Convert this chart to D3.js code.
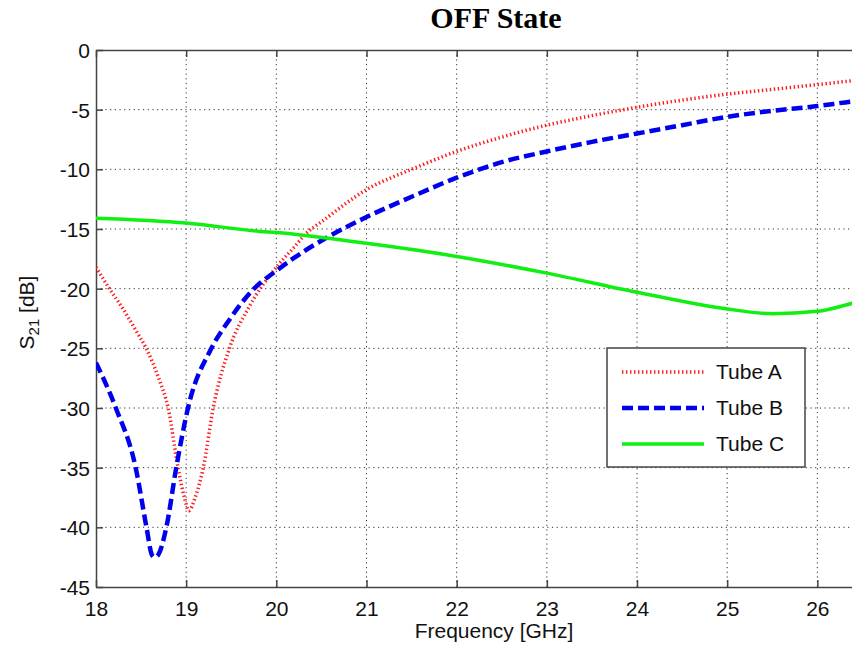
<!DOCTYPE html>
<html>
<head>
<meta charset="utf-8">
<script src="https://cdn.jsdelivr.net/npm/d3@7/dist/d3.min.js"></script>
<style>
  html, body { margin: 0; padding: 0; background: #fff; }
  svg { display: block; }
</style>
</head>
<body>
<svg id="chart" width="852" height="655"></svg>
<script>
// ---- data ----
const tubeAFreq = [18, 18.14, 18.3, 18.45, 18.55, 18.7, 18.8, 18.91, 18.98, 19.03, 19.1, 19.19, 19.3, 19.48, 19.7, 20.0, 20.2, 20.34, 20.5, 21, 21.5, 22, 22.5, 23, 23.5, 24, 24.5, 25, 25.5, 26, 26.5, 26.85];
const tubeAVals = [-18.2, -19.9, -21.7, -23.6, -24.9, -27.6, -30, -35, -37.5, -38.6, -37.5, -35, -30, -25, -21.5, -18.2, -16.5, -15.3, -14.4, -11.7, -10, -8.5, -7.3, -6.3, -5.5, -4.8, -4.2, -3.7, -3.3, -2.9, -2.5, -2.3];

const tubeBFreq = [18, 18.22, 18.44, 18.56, 18.62, 18.65, 18.69, 18.78, 18.89, 19.02, 19.28, 19.48, 19.74, 20.0, 20.2, 20.54, 21, 21.5, 22, 22.5, 23, 23.5, 24, 24.5, 25, 25.5, 26, 26.4, 26.85];
const tubeBVals = [-26.2, -30, -35, -40, -42.3, -42.5, -42.3, -40, -35, -30, -25, -22.6, -20.1, -18.5, -17.4, -15.8, -14, -12.3, -10.7, -9.4, -8.5, -7.7, -7.0, -6.3, -5.6, -5.1, -4.7, -4.3, -4.0];

const tubeCFreq = [18, 19, 19.82, 20, 21, 22, 23, 24, 25, 25.5, 26, 26.4, 26.85];
const tubeCVals = [-14.1, -14.5, -15.2, -15.3, -16.2, -17.3, -18.7, -20.3, -21.7, -22.1, -21.9, -21.2, -20.3];

const seriesNames = ["Tube A", "Tube B", "Tube C"];
const xTicks = [18, 19, 20, 21, 22, 23, 24, 25, 26];
const yTicks = [0, -5, -10, -15, -20, -25, -30, -35, -40, -45];
const titleText = "OFF State";
const xLabel = "Frequency [GHz]";

// ---- layout ----
const svg = d3.select("#chart");
const mLeft = 96, mTop = 50, mBottom = 587, mRight = 894;
const x = d3.scaleLinear().domain([18, 26.85]).range([mLeft, mRight]);
const y = d3.scaleLinear().domain([-45, 0]).range([mBottom, mTop]);

const font = "Liberation Sans, Arial, Helvetica, sans-serif";
const fmt = d => String(d);

// clip
svg.append("defs").append("clipPath").attr("id", "clip")
  .append("rect").attr("x", mLeft).attr("y", mTop).attr("width", mRight - mLeft).attr("height", mBottom - mTop);

// grid
const grid = svg.append("g");
grid.selectAll("line.vg").data(xTicks.slice(1)).join("line")
  .attr("x1", d => x(d)).attr("x2", d => x(d)).attr("y1", mTop).attr("y2", mBottom)
  .attr("stroke", "#333").attr("stroke-width", 1).attr("stroke-dasharray", "1.2,3.5");
grid.selectAll("line.hg").data(yTicks.slice(1, -1)).join("line")
  .attr("x1", mLeft).attr("x2", mRight).attr("y1", d => y(d)).attr("y2", d => y(d))
  .attr("stroke", "#333").attr("stroke-width", 1).attr("stroke-dasharray", "1.2,3.5");

// axes (ticks inward)
const axisColor = "#444";
const xAxis = svg.append("g").attr("transform", `translate(0,${mBottom})`)
  .call(d3.axisBottom(x).tickValues(xTicks).tickFormat(fmt).tickSizeInner(-7).tickSizeOuter(0).tickPadding(14));
const xAxisTop = svg.append("g").attr("transform", `translate(0,${mTop})`)
  .call(d3.axisTop(x).tickValues(xTicks).tickFormat("").tickSizeInner(-7).tickSizeOuter(0));
const yAxis = svg.append("g").attr("transform", `translate(${mLeft},0)`)
  .call(d3.axisLeft(y).tickValues(yTicks).tickFormat(fmt).tickSizeInner(-7).tickSizeOuter(0).tickPadding(6));
[xAxis, xAxisTop, yAxis].forEach(g => {
  g.select(".domain").attr("stroke", axisColor).attr("stroke-width", 1.5);
  g.selectAll(".tick line").attr("stroke", axisColor).attr("stroke-width", 1.5);
  g.selectAll("text").attr("font-family", font).attr("font-size", 21).attr("fill", "#111");
});
yAxis.selectAll("text").attr("dy", "0.36em");

// lines
const line = d3.line().x(d => x(d[0])).y(d => y(d[1])).curve(d3.curveMonotoneX);
const series = [
  { name: seriesNames[0], f: tubeAFreq, v: tubeAVals, color: "#ff1a1a", width: 3.5, dash: "1.4,2.6" },
  { name: seriesNames[1], f: tubeBFreq, v: tubeBVals, color: "#0000ee", width: 4.5, dash: "11,5" },
  { name: seriesNames[2], f: tubeCFreq, v: tubeCVals, color: "#11ee11", width: 3.5, dash: null }
];
const plot = svg.append("g").attr("clip-path", "url(#clip)");
series.forEach(s => {
  plot.append("path").datum(d3.zip(s.f, s.v))
    .attr("d", line).attr("fill", "none")
    .attr("stroke", s.color).attr("stroke-width", s.width)
    .attr("stroke-dasharray", s.dash);
});

// title
svg.append("text").attr("x", 496).attr("y", 28).attr("text-anchor", "middle")
  .attr("font-family", "Liberation Serif, Times New Roman, serif").attr("font-weight", "bold")
  .attr("font-size", 30).attr("fill", "#000").text(titleText);

// x label
svg.append("text").attr("x", 494).attr("y", 638).attr("text-anchor", "middle")
  .attr("font-family", font).attr("font-size", 21).attr("fill", "#111").text(xLabel);

// y label with subscript
const yl = svg.append("text").attr("transform", `translate(34,${(mTop + mBottom) / 2 - 6}) rotate(-90)`)
  .attr("text-anchor", "middle").attr("font-family", font).attr("font-size", 21).attr("fill", "#111");
yl.append("tspan").text("S");
yl.append("tspan").attr("font-size", 15).attr("dy", 5).text("21");
yl.append("tspan").attr("dy", -5).text(" [dB]");

// legend
const lg = svg.append("g");
lg.append("rect").attr("x", 607).attr("y", 348).attr("width", 198).attr("height", 119)
  .attr("fill", "#fff").attr("stroke", "#444").attr("stroke-width", 1.5);
const rowsY = [372, 408, 444];
series.forEach((s, i) => {
  lg.append("line").attr("x1", 622).attr("x2", 704).attr("y1", rowsY[i]).attr("y2", rowsY[i])
    .attr("stroke", s.color).attr("stroke-width", s.width).attr("stroke-dasharray", s.dash);
  lg.append("text").attr("x", 716).attr("y", rowsY[i] + 7).attr("font-family", font)
    .attr("font-size", 21).attr("fill", "#111").text(s.name);
});
</script>
</body>
</html>
